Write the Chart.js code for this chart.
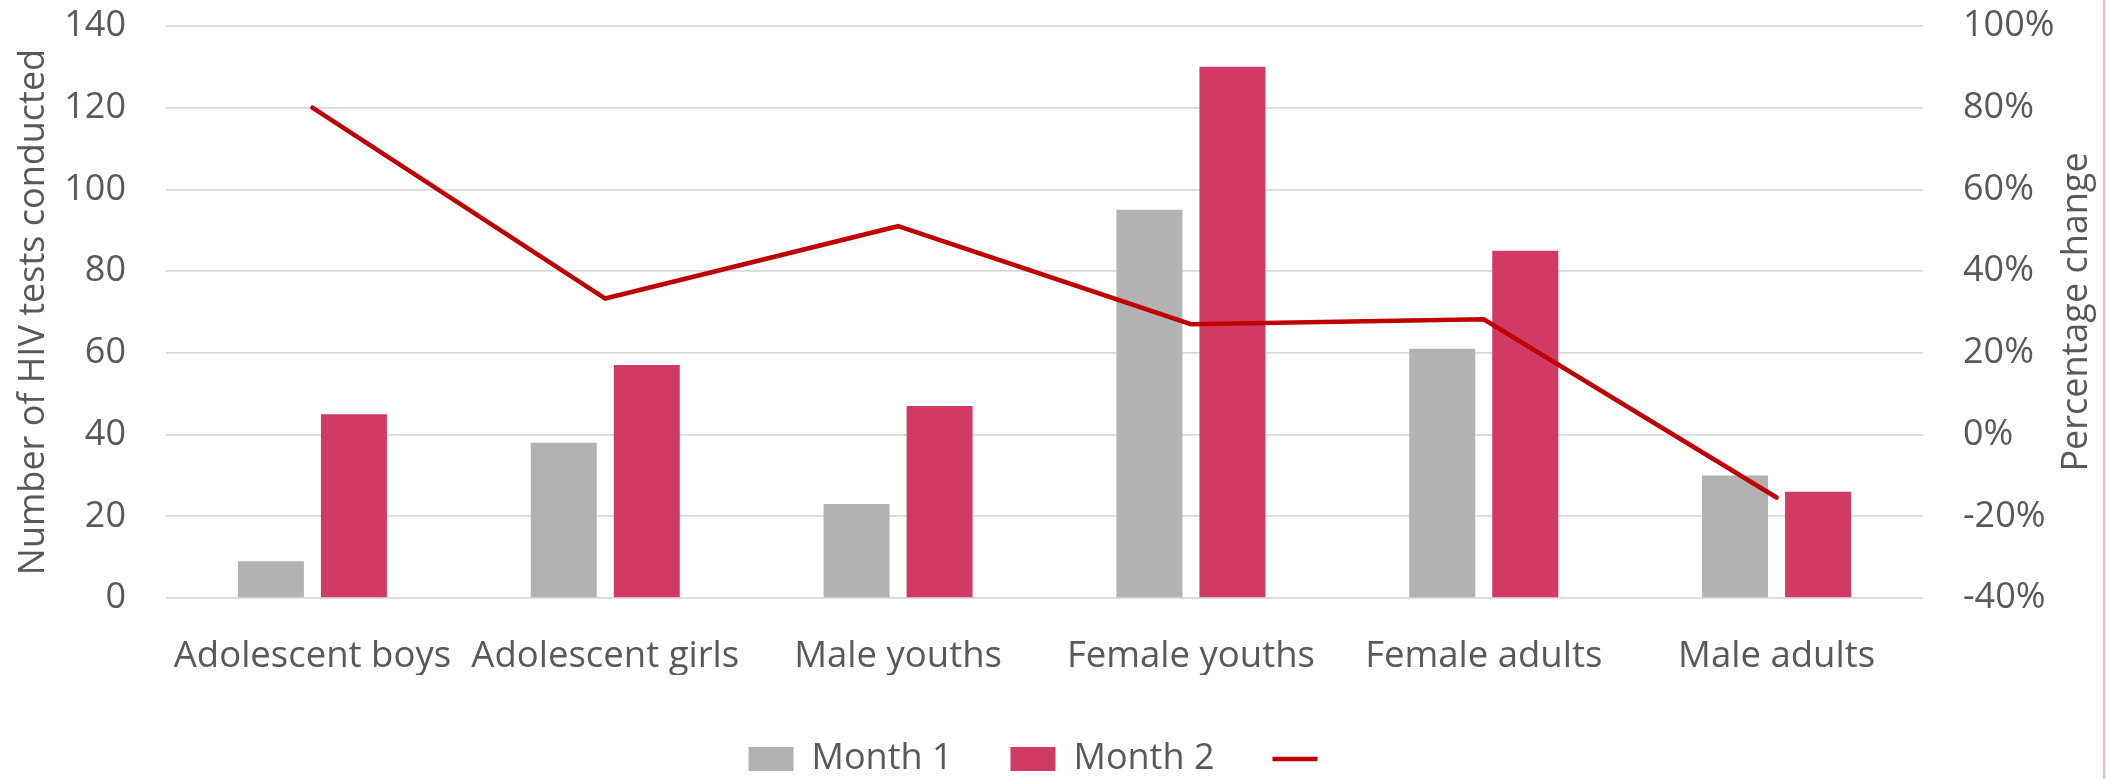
<!DOCTYPE html>
<html>
<head>
<meta charset="utf-8">
<script src="https://cdn.jsdelivr.net/npm/chart.js@4"></script>
<style>
  body { margin: 0; background: #fff; }
  #wrap { position: relative; width: 2120px; height: 779px; }
  #edge { position: absolute; left: 2103px; top: 0; width: 2px; height: 779px; background: #F2BAC3; }
</style>
</head>
<body>
<div id="wrap">
  <canvas id="chart"></canvas>
  <div id="edge"></div>
</div>
<script>
// values
const categories = ['Adolescent boys', 'Adolescent girls', 'Male youths', 'Female youths', 'Female adults', 'Male adults'];
const month1 = [9, 38, 23, 95, 61, 30];
const month2 = [45, 57, 47, 130, 85, 26];
const pctChange = [80, 33.3, 51, 27, 28.2, -15.4];
const countTicks = [0, 20, 40, 60, 80, 100, 120, 140];
const pctTicks = [-40, -20, 0, 20, 40, 60, 80, 100];

const textColor = '#595959';
const font = 'Open Sans';

// right title reads bottom-to-top in the original
const rightTitle = {
	id: 'rightTitle',
	afterDraw(chart) {
		const ctx = chart.ctx;
		const s = chart.scales.y1;
		ctx.save();
		ctx.translate(s.right - 43, (s.top + s.bottom) / 2);
		ctx.rotate(-Math.PI / 2);
		ctx.font = '36px "' + font + '"';
		ctx.fillStyle = textColor;
		ctx.textAlign = 'center';
		ctx.textBaseline = 'middle';
		ctx.fillText('Percentage change', 0, 0);
		ctx.restore();
	}
};

// nudge the legend a little to where it sits in the original
const legendNudge = {
	id: 'legendNudge',
	afterLayout(chart) {
		const lg = chart.legend;
		lg.left -= 18;
		lg.right -= 18;
		lg.top += 8;
		lg.bottom += 8;
	}
};

// don't let the tick padding push the plot down
const noTickPad = (s) => {
	s.paddingTop = 20;
	s.paddingBottom = 20;
};

new Chart(document.getElementById('chart').getContext('2d'), {
	data: {
		labels: categories,
		datasets: [
			{
				type: 'bar',
				label: 'Month 1',
				data: month1,
				backgroundColor: '#B2B2B2',
				yAxisID: 'y',
				order: 1,
				categoryPercentage: 0.567,
				barPercentage: 0.795
			},
			{
				type: 'bar',
				label: 'Month 2',
				data: month2,
				backgroundColor: '#D03A64',
				yAxisID: 'y',
				order: 1,
				categoryPercentage: 0.567,
				barPercentage: 0.795
			},
			{
				type: 'line',
				label: '',
				data: pctChange,
				borderColor: '#C00000',
				backgroundColor: '#C00000',
				borderWidth: 4.5,
				borderCapStyle: 'round',
				borderJoinStyle: 'miter',
				pointRadius: 0,
				tension: 0,
				yAxisID: 'y1',
				order: 0
			}
		]
	},
	options: {
		responsive: true,
		maintainAspectRatio: false,
		animation: false,
		layout: { padding: { top: 26, left: 0, right: 0, bottom: 0 } },
		plugins: {
			tooltip: { enabled: false },
			legend: {
				position: 'bottom',
				labels: {
					usePointStyle: true,
					pointStyleWidth: 45,
					boxHeight: 24,
					padding: 58,
					color: textColor,
					font: { family: font, size: 36 },
					sort: (a, b) => a.datasetIndex - b.datasetIndex,
					generateLabels: (chart) => {
						const items = Chart.defaults.plugins.legend.labels.generateLabels(chart);
						items.forEach(it => {
							it.pointStyle = chart.data.datasets[it.datasetIndex].type === 'line' ? 'line' : 'rect';
						});
						return items;
					}
				}
			}
		},
		scales: {
			x: {
				grid: { display: false },
				border: { display: false },
				ticks: { color: textColor, padding: 29, font: { family: font, size: 36.5 } },
				afterFit: (s) => { s.height = 77; }
			},
			y: {
				position: 'left',
				min: 0,
				max: 140,
				afterBuildTicks: (s) => { s.ticks = countTicks.map(v => ({ value: v })); },
				grid: { color: '#D9D9D9', lineWidth: 1.75, drawTicks: false },
				border: { display: false },
				ticks: { color: textColor, padding: 40, font: { family: font, size: 36 } },
				title: {
					display: true,
					text: 'Number of HIV tests conducted',
					color: textColor,
					padding: { top: 12, bottom: 0 },
					font: { family: font, size: 36 }
				},
				afterFit: (s) => { s.width = 166; noTickPad(s); }
			},
			y1: {
				position: 'right',
				min: -40,
				max: 100,
				afterBuildTicks: (s) => { s.ticks = pctTicks.map(v => ({ value: v })); },
				grid: { display: false, drawTicks: false },
				border: { display: false },
				ticks: {
					color: textColor,
					padding: 40,
					font: { family: font, size: 36 },
					callback: (v) => v + '%'
				},
				afterFit: (s) => { s.width = 197; noTickPad(s); }
			}
		}
	},
	plugins: [rightTitle, legendNudge]
});
</script>
</body>
</html>
